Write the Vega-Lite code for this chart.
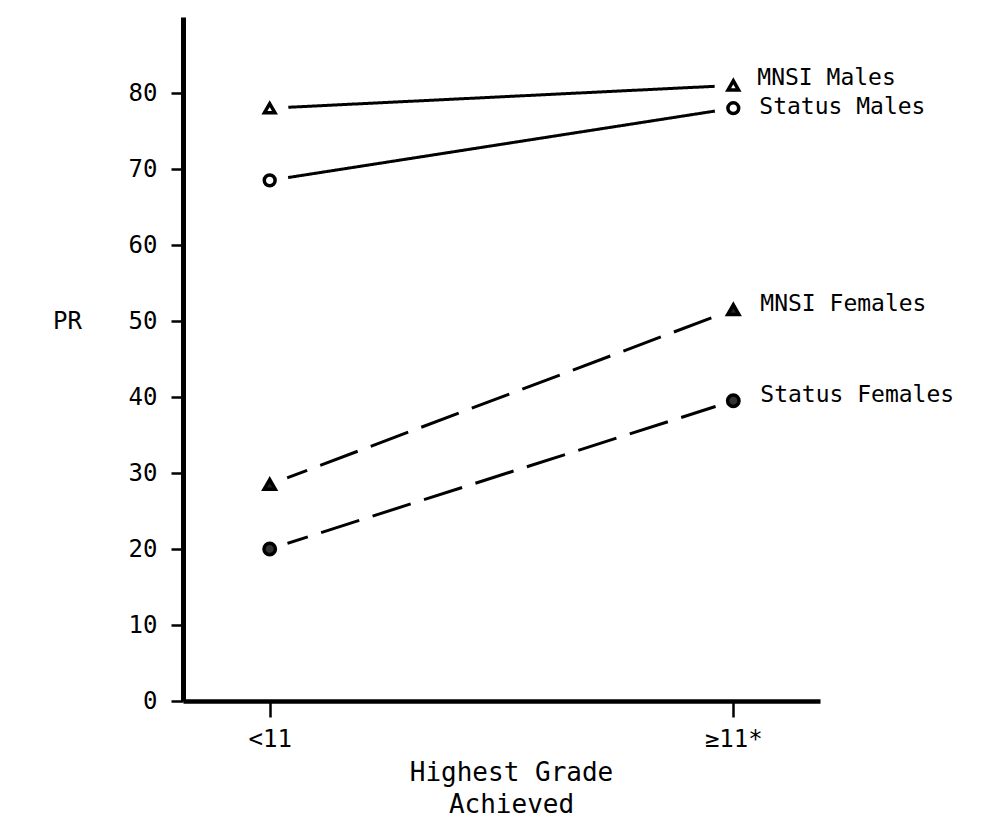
{
  "$schema": "https://vega.github.io/schema/vega-lite/v6.json",
  "width": 637,
  "height": 684,
  "autosize": "none",
  "padding": {"left": 183, "top": 17, "right": 177, "bottom": 119},
  "background": "white",
  "config": {
    "view": {"stroke": null},
    "font": "DejaVu Sans Mono",
    "axis": {"grid": false, "labelFont": "DejaVu Sans Mono", "titleFont": "DejaVu Sans Mono", "labelColor": "black", "titleColor": "black", "titleFontWeight": "normal"}
  },
  "data": {
    "values": [
      {"series": "MNSI Males", "sex": "Males", "grade": "<11", "pr": 78},
      {"series": "MNSI Males", "sex": "Males", "grade": "≥11*", "pr": 81},
      {"series": "Status Males", "sex": "Males", "grade": "<11", "pr": 68.5},
      {"series": "Status Males", "sex": "Males", "grade": "≥11*", "pr": 78},
      {"series": "MNSI Females", "sex": "Females", "grade": "<11", "pr": 28.5},
      {"series": "MNSI Females", "sex": "Females", "grade": "≥11*", "pr": 51.5},
      {"series": "Status Females", "sex": "Females", "grade": "<11", "pr": 20},
      {"series": "Status Females", "sex": "Females", "grade": "≥11*", "pr": 39.5}
    ]
  },
  "encoding": {
    "x": {
      "field": "grade", "type": "ordinal", "sort": ["<11", "≥11*"],
      "scale": {"type": "point", "padding": 0.187},
      "axis": {
        "title": ["Highest Grade", "Achieved"],
        "titleFontSize": 26, "titleLineHeight": 32,
        "titleX": 328, "titleY": 79, "titleAlign": "center", "titleBaseline": "alphabetic", "titleAnchor": null,
        "labelFontSize": 24, "labelAngle": 0, "labelPadding": 10,
        "domainColor": "black", "domainWidth": 4.5,
        "tickColor": "black", "tickWidth": 2.5, "tickSize": 16
      }
    },
    "y": {
      "field": "pr", "type": "quantitative",
      "scale": {"domain": [0, 90], "nice": false, "zero": true},
      "axis": {
        "title": "PR", "titleAngle": 0, "titleX": -116, "titleY": 304, "titleAlign": "center", "titleBaseline": "middle",
        "titleFontSize": 24,
        "values": [0, 10, 20, 30, 40, 50, 60, 70, 80],
        "labelFontSize": 24, "labelPadding": 14,
        "domainColor": "black", "domainWidth": 5,
        "tickColor": "black", "tickWidth": 2.5, "tickSize": 12
      }
    }
  },
  "layer": [
    {
      "mark": {"type": "line", "color": "black", "strokeWidth": 3},
      "encoding": {
        "detail": {"field": "series"},
        "strokeDash": {"field": "sex", "type": "nominal", "scale": {"domain": ["Males", "Females"], "range": [[1, 0], [40, 14]]}, "legend": null}
      }
    },
    {
      "mark": {"type": "point", "filled": true, "color": "white", "size": 1400, "shape": "circle", "opacity": 1}
    },
    {
      "mark": {"type": "point", "filled": true, "stroke": "black", "strokeWidth": 3.5, "opacity": 1},
      "encoding": {
        "shape": {"field": "series", "type": "nominal", "scale": {"domain": ["MNSI Males", "Status Males", "MNSI Females", "Status Females"], "range": ["triangle-up", "circle", "triangle-up", "circle"]}, "legend": null},
        "fill": {"field": "series", "type": "nominal", "scale": {"domain": ["MNSI Males", "Status Males", "MNSI Females", "Status Females"], "range": ["white", "white", "#222222", "#333333"]}, "legend": null},
        "size": {"field": "series", "type": "nominal", "scale": {"domain": ["MNSI Males", "Status Males", "MNSI Females", "Status Females"], "range": [110, 130, 190, 260]}, "legend": null}
      }
    },
    {
      "transform": [{"filter": "datum.grade === '≥11*' && datum.series === 'MNSI Males'"}],
      "mark": {"type": "text", "align": "left", "baseline": "middle", "dx": 24, "dy": -7, "fontSize": 23, "color": "black"},
      "encoding": {"text": {"field": "series"}}
    },
    {
      "transform": [{"filter": "datum.grade === '≥11*' && datum.series === 'Status Males'"}],
      "mark": {"type": "text", "align": "left", "baseline": "middle", "dx": 26, "dy": -1, "fontSize": 23, "color": "black"},
      "encoding": {"text": {"field": "series"}}
    },
    {
      "transform": [{"filter": "datum.grade === '≥11*' && datum.sex === 'Females'"}],
      "mark": {"type": "text", "align": "left", "baseline": "middle", "dx": 27, "dy": -6, "fontSize": 23, "color": "black"},
      "encoding": {"text": {"field": "series"}}
    }
  ]
}
